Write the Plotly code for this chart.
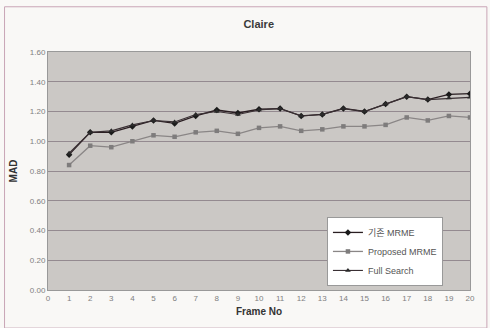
import plotly.graph_objects as go

frames = list(range(1, 21))
mrme_old = [0.91, 1.06, 1.06, 1.10, 1.14, 1.12, 1.17, 1.21, 1.19, 1.215, 1.22, 1.17, 1.18, 1.22, 1.20, 1.25, 1.30, 1.28, 1.315, 1.32]
mrme_prop = [0.84, 0.97, 0.96, 1.00, 1.04, 1.03, 1.06, 1.07, 1.05, 1.09, 1.10, 1.07, 1.08, 1.10, 1.10, 1.11, 1.16, 1.14, 1.17, 1.16]
full_search = [0.92, 1.06, 1.07, 1.11, 1.14, 1.13, 1.18, 1.20, 1.18, 1.21, 1.22, 1.17, 1.18, 1.22, 1.20, 1.25, 1.30, 1.28, 1.29, 1.295]
x_ticks = list(range(0, 21))
y_ticks = [0.0, 0.2, 0.4, 0.6, 0.8, 1.0, 1.2, 1.4, 1.6]

fig = go.Figure()
fig.add_trace(go.Scatter(x=frames, y=mrme_old, name="기존 MRME", mode="lines+markers",
                         line=dict(color="#2a1e22", width=1.3),
                         marker=dict(symbol="diamond", size=5, color="#1a1a1a")))
fig.add_trace(go.Scatter(x=frames, y=mrme_prop, name="Proposed MRME", mode="lines+markers",
                         line=dict(color="#8a8686", width=1.3),
                         marker=dict(symbol="square", size=4.5, color="#7e7c7c")))
fig.add_trace(go.Scatter(x=frames, y=full_search, name="Full Search", mode="lines+markers",
                         line=dict(color="#3a3034", width=1.1),
                         marker=dict(symbol="triangle-up", size=5, color="#2a2a2a")))

tickfont = dict(family="Liberation Sans, Arial", size=8, color="#808080")
fig.update_layout(
    width=490, height=328,
    margin=dict(l=48, r=20, t=52, b=38),
    paper_bgcolor="#f9f8f6",
    plot_bgcolor="#cbc8c5",
    title=dict(text="<b>Claire</b>", x=0.528, xanchor="center", y=0.927, yanchor="middle",
               font=dict(family="Liberation Sans, Arial", size=11, color="#3a3a3a")),
    xaxis=dict(range=[0, 20], tickvals=x_ticks, ticktext=[str(t) for t in x_ticks],
               showgrid=False, zeroline=False, showline=True, linecolor="#999", mirror=True,
               tickfont=tickfont, ticks="",
               title=dict(text="<b>Frame No</b>", standoff=6,
                          font=dict(family="Liberation Sans, Arial", size=10, color="#333"))),
    yaxis=dict(range=[0, 1.6], tickvals=y_ticks, ticktext=[f"{v:.2f}" for v in y_ticks],
               showgrid=True, gridcolor="#948a90", gridwidth=1, zeroline=False,
               showline=True, linecolor="#999", mirror=True,
               tickfont=tickfont, ticks="",
               title=dict(text="<b>MAD</b>", standoff=10,
                          font=dict(family="Liberation Sans, Arial", size=10, color="#333"))),
    legend=dict(x=0.661, y=0.307, xanchor="left", yanchor="top",
                bgcolor="#ffffff", bordercolor="#999", borderwidth=1,
                font=dict(family="Liberation Sans, Noto Sans CJK KR, Arial", size=9, color="#555"),
                itemwidth=30, tracegroupgap=0),
    showlegend=True,
    shapes=[dict(type="rect", xref="paper", yref="paper", x0=-0.103, x1=1.04, y0=-0.16, y1=1.19,
                 line=dict(color="#c9a6b6", width=1), layer="below")],
)
fig.write_html("out.html")
